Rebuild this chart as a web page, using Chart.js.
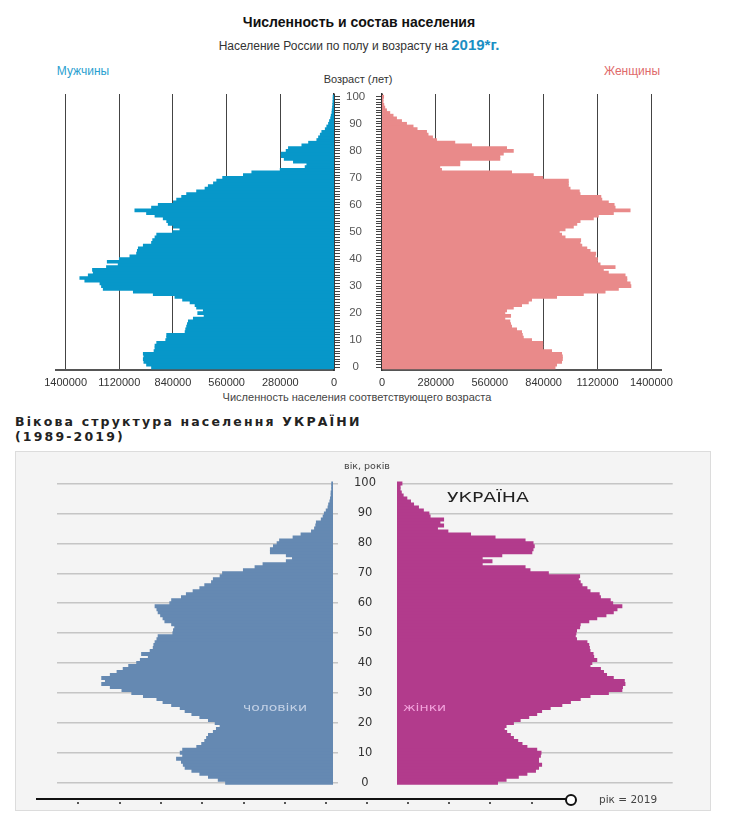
<!DOCTYPE html>
<html><head><meta charset="utf-8">
<script src="https://cdn.jsdelivr.net/npm/chart.js@4.4.1/dist/chart.umd.min.js"></script>
<style>
html,body{margin:0;padding:0;background:#fff;}
#root{position:relative;width:730px;height:827px;overflow:hidden;font-family:"Liberation Sans",Arial,sans-serif;color:#222;}
.t{position:absolute;white-space:nowrap;line-height:1;}
.c{transform:translate(-50%,-50%);}
canvas{position:absolute;}
#panel{position:absolute;left:15px;top:451px;width:696px;height:360px;background:#f4f4f4;border:1px solid #dcdcdc;box-sizing:border-box;}
.dot{position:absolute;width:2px;height:2px;background:#555;top:802px;}
</style></head><body><div id="root">

<div class="t c" style="left:359px;top:22px;font-weight:bold;font-size:14px;color:#111;">Численность и состав населения</div>
<div class="t c" style="left:359px;top:44px;font-size:12px;color:#333;">Население России по полу и возрасту на <span style="font-weight:bold;font-size:15px;color:#1a8fc4;">2019*г.</span></div>
<div class="t c" style="left:83px;top:71px;font-size:12px;color:#2a9fd0;">Мужчины</div>
<div class="t c" style="left:632px;top:71px;font-size:12px;color:#e06a6a;">Женщины</div>
<div class="t c" style="left:358px;top:79px;font-size:11px;color:#333;">Возраст (лет)</div>
<div class="t c" style="left:357px;top:397px;font-size:11px;color:#444;">Численность населения соответствующего возраста</div>

<div class="t" style="left:15px;top:416px;font-family:'DejaVu Sans';font-weight:bold;font-size:12.5px;color:#222;letter-spacing:2.15px;">Вікова структура населення УКРАЇНИ</div>
<div class="t" style="left:15px;top:431px;font-family:'DejaVu Sans';font-weight:bold;font-size:12.5px;color:#222;letter-spacing:2.15px;">(1989-2019)</div>
<div id="panel"></div>

<canvas id="ruM" width="382" height="400" style="left:0;top:0;"></canvas>
<canvas id="ruF" width="390" height="400" style="left:340px;top:0;"></canvas>
<canvas id="uaM" width="397" height="360" style="left:0;top:440px;"></canvas>
<canvas id="uaF" width="333" height="360" style="left:397px;top:440px;"></canvas>

<div class="t c" style="left:367px;top:466px;font-family:'DejaVu Sans';font-size:9.5px;color:#444;">вік, років</div>
<div class="t" style="left:447px;top:490px;font-family:'DejaVu Sans';font-size:14px;color:#222;transform:scaleX(1.35);transform-origin:left center;">УКРАЇНА</div>
<div class="t" style="left:243px;top:703px;font-family:'DejaVu Sans';font-size:10px;color:#c4d2e6;transform:scaleX(1.4);transform-origin:left center;">чоловіки</div>
<div class="t" style="left:403px;top:703px;font-family:'DejaVu Sans';font-size:10px;color:#f2a2dc;transform:scaleX(1.4);transform-origin:left center;">жінки</div>

<div style="position:absolute;left:36px;top:798px;width:530px;height:2px;background:#111;"></div>
<div id="dots"></div>
<div style="position:absolute;left:565px;top:794px;width:8px;height:8px;border:2px solid #111;border-radius:50%;background:#fff;"></div>
<div class="t" style="left:599px;top:794px;font-family:'DejaVu Sans';font-size:10.5px;color:#444;">рік = 2019</div>
</div>
<script>
const ages = [0,1,2,3,4,5,6,7,8,9,10,11,12,13,14,15,16,17,18,19,20,21,22,23,24,25,26,27,28,29,30,31,32,33,34,35,36,37,38,39,40,41,42,43,44,45,46,47,48,49,50,51,52,53,54,55,56,57,58,59,60,61,62,63,64,65,66,67,68,69,70,71,72,73,74,75,76,77,78,79,80,81,82,83,84,85,86,87,88,89,90,91,92,93,94,95,96,97,98,99,100];
const ageLabels = [0,10,20,30,40,50,60,70,80,90,100];
const ruTicks = [0,280000,560000,840000,1120000,1400000];

const ruMale = [951000,977000,991000,994000,991000,994000,938000,933000,933000,924000,
 877000,872000,872000,776000,773000,768000,764000,759000,733000,677000,
 710000,681000,716000,724000,750000,789000,829000,942000,1046000,1203000,
 1212000,1220000,1299000,1325000,1281000,1255000,1259000,1186000,1125000,1182000,
 1119000,1064000,1029000,1025000,1020000,994000,951000,945000,933000,924000,
 841000,803000,837000,864000,872000,890000,933000,977000,1038000,951000,
 916000,837000,820000,794000,768000,716000,672000,655000,628000,611000,
 580000,472000,428000,280000,150000,141000,211000,259000,275000,275000,
 249000,237000,167000,132000,89000,80000,71000,63000,45000,37000,
 28000,23000,17000,14000,10000,9000,7000,6000,5000,4000,4000];

const ruFemale = [899000,907000,933000,937000,937000,933000,881000,835000,835000,835000,
 777000,734000,729000,725000,699000,673000,668000,664000,638000,668000,
 638000,647000,682000,725000,760000,777000,907000,1046000,1159000,1228000,
 1293000,1289000,1272000,1272000,1263000,1176000,1150000,1211000,1133000,1119000,
 1119000,1107000,1110000,1081000,1064000,1038000,1029000,1032000,951000,933000,
 921000,951000,994000,1012000,1029000,1098000,1124000,1202000,1289000,1211000,
 1206000,1176000,1142000,1137000,1029000,1025000,977000,968000,968000,968000,
 835000,786000,673000,309000,300000,404000,404000,612000,612000,630000,
 682000,647000,465000,378000,283000,262000,239000,231000,182000,161000,
 127000,101000,75000,57000,40000,23000,14000,9000,5000,5000,8000];

// Ukraine, thousands of persons (scale not labelled in the source)
const uaMale = [175,187,203,217,230,241,244,247,255,245,
 249,245,222,214,209,206,203,195,190,184,
 192,203,217,230,241,249,263,277,287,309,
 328,344,363,377,371,377,363,352,342,333,
 320,314,301,312,298,293,292,290,287,285,
 261,260,258,263,274,277,281,285,287,290,
 266,263,247,239,228,217,209,198,195,184,
 180,146,127,114,76,66,76,102,102,97,
 91,87,65,52,35,30,28,27,19,16,
 14,11,8,7,5,4,3,3,2,2,2];

const uaFemale = [164,178,198,212,226,231,236,231,231,234,
 235,228,212,204,197,190,185,179,175,178,
 190,201,215,228,236,250,269,283,299,315,
 345,367,368,372,371,353,342,337,332,315,
 318,326,321,320,315,314,313,310,293,291,
 292,293,298,299,313,326,341,353,359,367,
 352,348,332,330,315,310,302,299,296,298,
 247,217,209,139,155,139,171,220,222,224,
 222,209,160,120,83,66,76,70,76,54,
 52,43,35,27,22,16,10,7,5,5,8];

const sliderDots = [77,119,160,201,243,284,325,366,407,448,489,531];

const RU_FONT = 'Liberation Sans, Arial, sans-serif';
const UA_FONT = 'DejaVu Sans, sans-serif';

const dotsEl = document.getElementById('dots');
sliderDots.forEach(x => { const d = document.createElement('div'); d.className = 'dot'; d.style.left = x + 'px'; dotsEl.appendChild(d); });

function ds(vals, color) {
  return { data: ages.map((a, i) => ({ x: vals[i], y: a })), backgroundColor: color,
    borderWidth: 0, barPercentage: 1, categoryPercentage: 1, inflateAmount: 0.5 };
}
const base = { indexAxis: 'y', responsive: false, animation: false, devicePixelRatio: 1,
  plugins: { legend: { display: false }, tooltip: { enabled: false } } };
const ageTicks = s => { s.ticks = ages.map(v => ({ value: v })); };

// Russia, men
new Chart(document.getElementById('ruM'), {
  type: 'bar', data: { datasets: [ds(ruMale, '#0797c9')] },
  options: Object.assign({}, base, {
    layout: { padding: { left: 56, top: 94, right: 0, bottom: 5 } },
    scales: {
      x: { type: 'linear', reverse: true, min: 0, max: 1450000,
        afterBuildTicks: s => { s.ticks = ruTicks.map(v => ({ value: v })); },
        afterFit: s => { s.height = 25; },
        grid: { color: '#444', drawTicks: false, lineWidth: 1, offset: false },
        border: { color: '#555', width: 2 },
        ticks: { color: '#333', font: { family: RU_FONT, size: 11 }, padding: 6, maxRotation: 0, autoSkip: false, callback: v => String(v) } },
      y: { type: 'linear', position: 'right', min: -0.5, max: 100.5,
        afterBuildTicks: ageTicks, afterFit: s => { s.width = 48; s.paddingTop = 0; s.paddingBottom = 0; },
        grid: { drawOnChartArea: false, drawTicks: true, tickLength: 6, color: '#444', offset: false },
        border: { color: '#333', width: 1.5 },
        ticks: { autoSkip: false, color: '#555', font: { family: RU_FONT, size: 11.5 }, padding: 6, crossAlign: 'center',
          callback: v => ageLabels.includes(v) ? String(v) : '' } }
    }
  })
});

// Russia, women
new Chart(document.getElementById('ruF'), {
  type: 'bar', data: { datasets: [ds(ruFemale, '#e98a8a')] },
  options: Object.assign({}, base, {
    layout: { padding: { left: 0, top: 94, right: 69, bottom: 5 } },
    scales: {
      x: { type: 'linear', min: 0, max: 1450000,
        afterBuildTicks: s => { s.ticks = ruTicks.map(v => ({ value: v })); },
        afterFit: s => { s.height = 25; },
        grid: { color: '#444', drawTicks: false, lineWidth: 1, offset: false },
        border: { color: '#555', width: 2 },
        ticks: { color: '#333', font: { family: RU_FONT, size: 11 }, padding: 6, maxRotation: 0, autoSkip: false, callback: v => String(v) } },
      y: { type: 'linear', position: 'left', min: -0.5, max: 100.5,
        afterBuildTicks: ageTicks, afterFit: s => { s.width = 42; s.paddingTop = 0; s.paddingBottom = 0; },
        grid: { drawOnChartArea: false, drawTicks: true, tickLength: 6, color: '#444', offset: false },
        border: { color: '#333', width: 1.5 },
        ticks: { autoSkip: false, callback: () => '' } }
    }
  })
});

const uaGrid = ctx => ageLabels.includes(ctx.tick && ctx.tick.value) ? 'rgba(185,185,185,0.8)' : 'rgba(0,0,0,0)';
const uaX = (rev) => ({ type: 'linear', reverse: rev, min: 0, max: 450, display: true,
  afterFit: s => { s.height = 14.2; },
  grid: { display: false }, border: { display: false }, ticks: { display: false } });

// Ukraine, men
new Chart(document.getElementById('uaM'), {
  type: 'bar', data: { datasets: [ds(uaMale, '#6589b2')] },
  options: Object.assign({}, base, {
    layout: { padding: { left: 57, top: 40.5, right: 0, bottom: 0 } },
    scales: {
      x: uaX(true),
      y: { type: 'linear', position: 'right', min: -0.5, max: 100.5, z: 1,
        afterBuildTicks: ageTicks, afterFit: s => { s.width = 64; s.paddingTop = 0; s.paddingBottom = 0; },
        grid: { drawOnChartArea: true, drawTicks: true, tickLength: 5, color: uaGrid, lineWidth: 1.5, offset: false },
        border: { display: false },
        ticks: { autoSkip: false, color: '#333', font: { family: UA_FONT, size: 11.5 }, padding: 16, crossAlign: 'center',
          callback: v => ageLabels.includes(v) ? String(v) : '' } }
    }
  })
});

// Ukraine, women
new Chart(document.getElementById('uaF'), {
  type: 'bar', data: { datasets: [ds(uaFemale, '#b23b8c')] },
  options: Object.assign({}, base, {
    layout: { padding: { left: 0, top: 40.5, right: 57.3, bottom: 0 } },
    scales: {
      x: uaX(false),
      y: { type: 'linear', position: 'left', min: -0.5, max: 100.5, z: 1,
        afterBuildTicks: ageTicks, afterFit: s => { s.width = 0; s.paddingTop = 0; s.paddingBottom = 0; },
        grid: { drawOnChartArea: true, drawTicks: false, color: uaGrid, lineWidth: 1.5, offset: false },
        border: { display: false },
        ticks: { autoSkip: false, display: false } }
    }
  })
});
</script>
</body></html>
